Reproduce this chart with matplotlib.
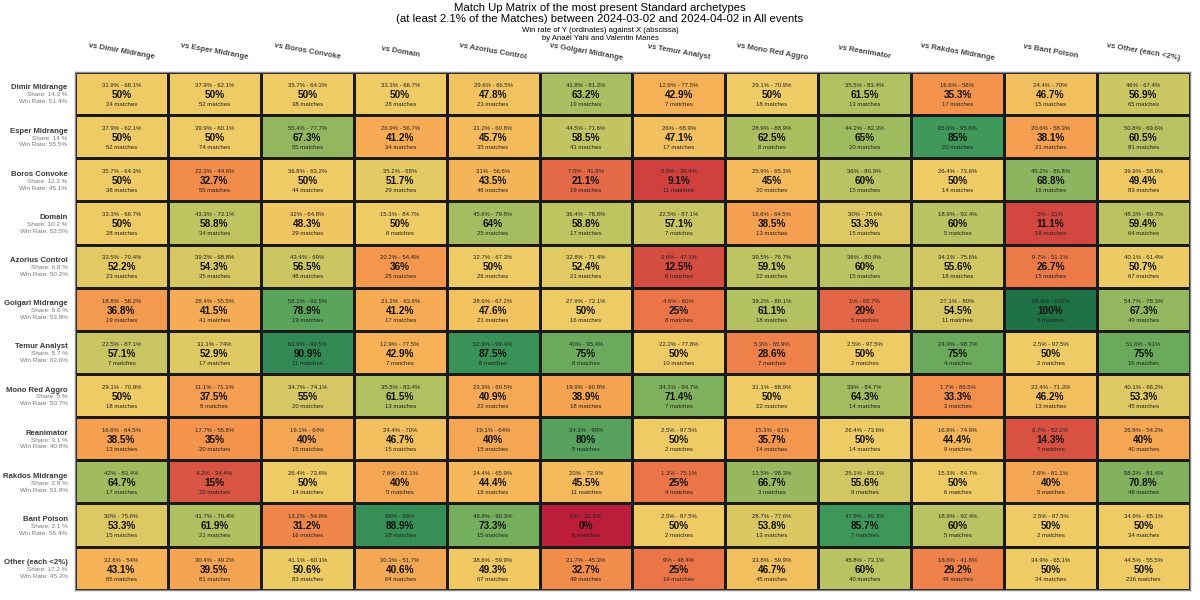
import numpy as np
import matplotlib
matplotlib.use("Agg")
from matplotlib import pyplot as plt
from matplotlib.colors import LinearSegmentedColormap, Normalize

plt.rcParams['font.family'] = ['Liberation Sans', 'DejaVu Sans']

archetypes = ["Dimir Midrange", "Esper Midrange", "Boros Convoke", "Domain",
              "Azorius Control", "Golgari Midrange", "Temur Analyst", "Mono Red Aggro",
              "Reanimator", "Rakdos Midrange", "Bant Poison", "Other (each <2%)"]
shares = ["14.3", "14", "12.2", "10.2", "6.8", "6.6", "5.7", "5", "3.1", "2.9", "2.1", "17.2"]
overall_wr = ["51.4", "55.5", "45.1", "52.5", "50.2", "53.9", "63.6", "50.7", "40.8", "51.9", "56.4", "45.3"]

# win rate of row archetype vs column archetype (%)
winrates = [
    [50, 50, 50, 50, 47.8, 63.2, 42.9, 50, 61.5, 35.3, 46.7, 56.9],
    [50, 50, 67.3, 41.2, 45.7, 58.5, 47.1, 62.5, 65, 85, 38.1, 60.5],
    [50, 32.7, 50, 51.7, 43.5, 21.1, 9.1, 45, 60, 50, 68.8, 49.4],
    [50, 58.8, 48.3, 50, 64, 58.8, 57.1, 38.5, 53.3, 60, 11.1, 59.4],
    [52.2, 54.3, 56.5, 36, 50, 52.4, 12.5, 59.1, 60, 55.6, 26.7, 50.7],
    [36.8, 41.5, 78.9, 41.2, 47.6, 50, 25, 61.1, 20, 54.5, 100, 67.3],
    [57.1, 52.9, 90.9, 42.9, 87.5, 75, 50, 28.6, 50, 75, 50, 75],
    [50, 37.5, 55, 61.5, 40.9, 38.9, 71.4, 50, 64.3, 33.3, 46.2, 53.3],
    [38.5, 35, 40, 46.7, 40, 80, 50, 35.7, 50, 44.4, 14.3, 40],
    [64.7, 15, 50, 40, 44.4, 45.5, 25, 66.7, 55.6, 50, 40, 70.8],
    [53.3, 61.9, 31.2, 88.9, 73.3, 0, 50, 53.8, 85.7, 60, 50, 50],
    [43.1, 39.5, 50.6, 40.6, 49.3, 32.7, 25, 46.7, 60, 29.2, 50, 50],
]

# 95% confidence interval, lower and upper bound (%)
ci_low = [
    [31.9, 37.9, 35.7, 33.3, 29.6, 41.8, 12.9, 29.1, 35.5, 16.6, 24.4, 46],
    [37.9, 39.9, 55.4, 26.9, 31.2, 44.5, 26, 28.9, 44.2, 65.6, 20.6, 50.8],
    [35.7, 22.3, 36.8, 35.2, 31, 7.5, 0.5, 25.9, 36, 26.4, 45.2, 39.9],
    [33.3, 43.3, 32, 15.3, 45.6, 36.4, 22.5, 16.6, 30, 18.9, 2, 48.3],
    [33.5, 39.2, 43.4, 20.2, 32.7, 32.8, 0.6, 39.5, 36, 34.1, 9.7, 40.1],
    [18.8, 28.4, 58.1, 21.2, 28.6, 27.9, 4.6, 39.2, 1, 27.1, 68.8, 54.7],
    [22.5, 31.1, 63.6, 12.9, 52.9, 40, 22.2, 5.3, 2.5, 24.9, 2.5, 51.6],
    [29.1, 11.1, 34.7, 35.5, 23.3, 19.9, 34.1, 31.1, 39, 1.7, 22.4, 40.1],
    [16.6, 17.7, 19.1, 24.4, 19.1, 34.3, 2.5, 15.3, 26.4, 16.9, 0.7, 26.9],
    [42, 4.2, 26.4, 7.6, 24.4, 20, 1.3, 13.5, 25.1, 15.3, 7.6, 58.2],
    [30, 41.7, 13.2, 69, 48.9, 0, 2.5, 28.7, 47.9, 18.9, 2.5, 34.9],
    [32.6, 30.4, 41.1, 30.3, 38.6, 21.7, 9, 33.8, 45.8, 18.6, 34.9, 44.5],
]
ci_high = [
    [68.1, 62.1, 64.3, 66.7, 66.5, 81.2, 77.5, 70.9, 83.4, 58, 70, 67.4],
    [62.1, 60.1, 77.7, 56.7, 60.8, 71.6, 68.9, 88.9, 82.3, 95.8, 58.3, 69.6],
    [64.3, 44.6, 63.2, 68, 56.6, 41.9, 36.4, 65.3, 80.9, 73.6, 86.8, 58.9],
    [66.7, 73.1, 64.8, 84.7, 79.8, 78.8, 87.1, 64.5, 75.6, 92.4, 31, 69.7],
    [70.4, 68.8, 69, 54.4, 67.3, 71.4, 47.1, 76.7, 80.9, 75.6, 51.1, 61.4],
    [58.2, 55.5, 92.5, 63.6, 67.2, 72.1, 60, 80.1, 65.7, 80, 100, 78.3],
    [87.1, 74, 99.5, 77.5, 99.4, 95.4, 77.8, 65.9, 97.5, 98.7, 97.5, 91],
    [70.9, 71.1, 74.1, 83.4, 60.5, 60.8, 94.7, 68.9, 84.7, 86.5, 71.3, 66.2],
    [64.5, 55.8, 64, 70, 64, 99, 97.5, 61, 73.6, 74.9, 52.1, 54.2],
    [83.4, 34.4, 73.6, 81.1, 65.9, 72.9, 75.1, 98.3, 83.1, 84.7, 81.1, 81.4],
    [75.6, 79.4, 54.8, 98, 90.3, 31.2, 97.5, 77.6, 99.3, 92.4, 97.5, 65.1],
    [54, 49.2, 60.1, 51.7, 59.9, 45.3, 48.4, 59.9, 73.1, 41.8, 65.1, 55.5],
]

matches = [
    [24, 52, 38, 28, 23, 19, 7, 18, 13, 17, 15, 65],
    [52, 74, 55, 34, 35, 41, 17, 8, 20, 20, 21, 81],
    [38, 55, 44, 29, 46, 19, 11, 20, 15, 14, 16, 83],
    [28, 34, 29, 6, 25, 17, 7, 13, 15, 5, 18, 64],
    [23, 35, 46, 25, 26, 21, 8, 22, 15, 18, 15, 67],
    [19, 41, 19, 17, 21, 16, 8, 18, 5, 11, 8, 49],
    [7, 17, 11, 7, 8, 8, 10, 7, 2, 4, 2, 16],
    [18, 8, 20, 13, 22, 18, 7, 22, 14, 3, 13, 45],
    [13, 20, 15, 15, 15, 5, 2, 14, 14, 9, 7, 40],
    [17, 20, 14, 5, 18, 11, 4, 3, 9, 6, 5, 48],
    [15, 21, 16, 18, 15, 8, 2, 13, 7, 5, 2, 34],
    [65, 81, 83, 64, 67, 49, 16, 45, 40, 48, 34, 236],
]


def fmt(v):
    return ("%g" % v)


cmap = LinearSegmentedColormap.from_list("wr", [
    (0.0, "#bb1d3b"), (0.1, "#d1443f"), (0.25, "#eb7548"), (0.35, "#f4934c"),
    (0.43, "#f6b257"), (0.5, "#efcb64"), (0.6, "#b9c361"), (0.75, "#6cab5c"),
    (0.85, "#3f995b"), (1.0, "#1f7246")])
norm = Normalize(0, 100)

wr = np.array(winrates)
n = len(archetypes)

fig = plt.figure(figsize=(12, 6), dpi=100)
ax = fig.add_axes([0.0625, 0.017, 0.929, 0.863])
ax.pcolormesh(np.arange(n + 1), np.arange(n + 1), wr, cmap=cmap, norm=norm,
              edgecolors="#1a1a1a", linewidth=1.0)
ax.set_xlim(0, n)
ax.set_ylim(n, 0)
ax.set_xticks([])
ax.set_yticks([])
for s in ax.spines.values():
    s.set_color("#888888")
    s.set_linewidth(1.0)

for i in range(n):
    for j in range(n):
        x = j + 0.5
        y = i + 0.5
        ax.text(x, y - 0.19, fmt(ci_low[i][j]) + "% - " + fmt(ci_high[i][j]) + "%",
                ha="center", va="center", fontsize=4.3, color="#222222")
        ax.text(x, y + 0.03, fmt(wr[i, j]) + "%", ha="center", va="center",
                fontsize=7.2, fontweight="bold", color="#111111")
        ax.text(x, y + 0.25, "%d matches" % matches[i][j], ha="center", va="center",
                fontsize=4.3, color="#222222")

# row labels
for i in range(n):
    ax.text(-0.08, i + 0.37, archetypes[i], ha="right", va="center", fontsize=5.6,
            fontweight="bold", color="#3a3a3a")
    ax.text(-0.08, i + 0.53, "Share: " + shares[i] + " %", ha="right", va="center",
            fontsize=4.6, color="#777777")
    ax.text(-0.08, i + 0.69, "Win Rate: " + overall_wr[i] + "%", ha="right", va="center",
            fontsize=4.6, color="#777777")

# column labels
for j in range(n):
    ax.text(j + 0.5, -0.47, "vs " + archetypes[j], ha="center", va="center",
            fontsize=5.6, fontweight="bold", color="#444444", rotation=-10,
            rotation_mode="anchor")

fig.text(0.5, 0.986, "Match Up Matrix of the most present Standard archetypes",
         ha="center", va="center", fontsize=8.2)
fig.text(0.5, 0.968, "(at least 2.1% of the Matches) between 2024-03-02 and 2024-04-02 in All events",
         ha="center", va="center", fontsize=8.2)
fig.text(0.5, 0.950, "Win rate of Y (ordinates) against X (abscissa)",
         ha="center", va="center", fontsize=5.6)
fig.text(0.5, 0.9365, "by Anaël Yahi and Valentin Manès",
         ha="center", va="center", fontsize=5.6)

fig.savefig("out.png", dpi=100, facecolor="white")
